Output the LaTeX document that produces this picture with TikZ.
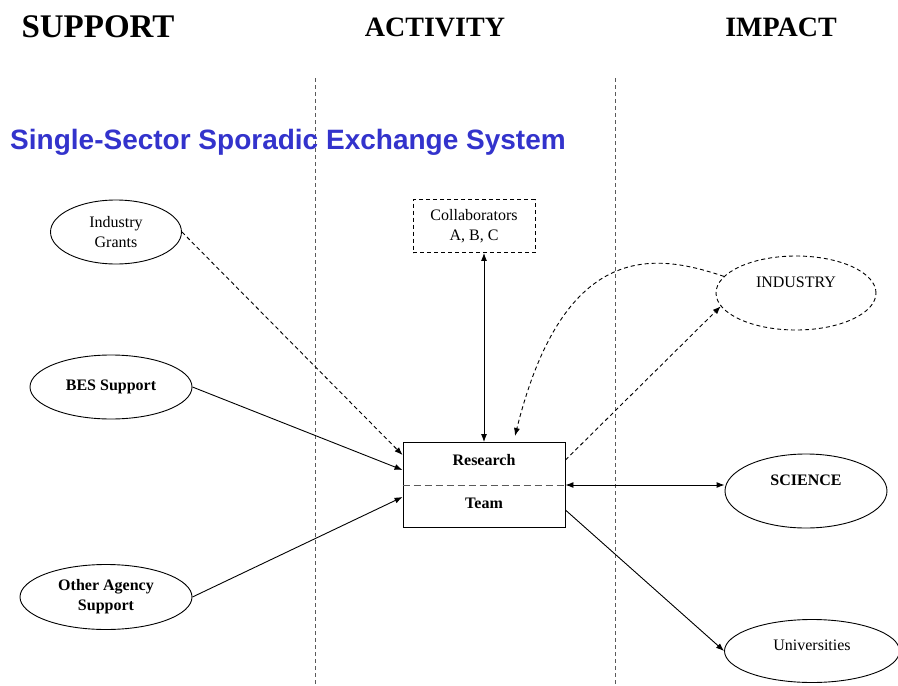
\documentclass[tikz,border=0pt]{standalone}
\usepackage{fontspec}
\setmainfont{Liberation Serif}
\newfontfamily\sansbf{Liberation Sans}
\usetikzlibrary{shapes.geometric,arrows.meta}

\definecolor{sysblue}{RGB}{51,51,204}
\definecolor{rulegray}{RGB}{90,90,90}

\tikzset{
	txt/.style={font=\fontsize{16}{20}\selectfont, align=center},
	oval/.style={draw, ellipse, inner sep=0pt, txt},
	heading/.style={font=\bfseries\fontsize{28}{30}\selectfont},
	link/.style={line width=0.9pt, -{Latex[length=8pt,width=6pt]}},
	twoway/.style={line width=0.9pt, {Latex[length=8pt,width=6pt]}-{Latex[length=8pt,width=6pt]}},
	loose/.style={dash pattern=on 4pt off 3pt},
}

\begin{document}
\begin{tikzpicture}[x=1pt, y=-1pt, line width=0.9pt]
	\useasboundingbox (0,0) rectangle (898,686);

	% column headings
	\node[heading, font=\bfseries\fontsize{33}{35}\selectfont] (support) at (98,27) {SUPPORT};
	\node[heading] (activity) at (435,27) {ACTIVITY};
	\node[heading] (impact) at (781,27) {IMPACT};

	% column rules
	\draw[rulegray, dash pattern=on 4pt off 3pt] (315,78) -- (315,686);
	\draw[rulegray, dash pattern=on 4pt off 3pt] (615,78) -- (615,686);

	\node[font=\sansbf\bfseries\fontsize{28}{30}\selectfont, text=sysblue] (sysname) at (288,142) {Single-Sector Sporadic Exchange System};

	% support side
	\node[oval, minimum width=131pt, minimum height=64pt] (grants) at (116,232) {Industry\\Grants};
	\node[oval, minimum width=162pt, minimum height=64pt, font=\bfseries\fontsize{16}{20}\selectfont] (bes) at (111,387) {BES Support};
	\node[oval, minimum width=172pt, minimum height=65pt, font=\bfseries\fontsize{16}{20}\selectfont] (other) at (106,597) {Other Agency\\Support};

	% activity
	\node[draw, loose, txt, minimum width=122pt, minimum height=53pt, inner sep=0pt] (collab) at (474,226) {Collaborators\\A, B, C};
	\node[draw, minimum width=162pt, minimum height=85pt] (team) at (484,485) {};
	\node[txt, font=\bfseries\fontsize{16}{20}\selectfont] (research) at (484,460) {Research};
	\node[txt, font=\bfseries\fontsize{16}{20}\selectfont] (teamtxt) at (484,503) {Team};
	\draw[rulegray, dash pattern=on 7pt off 4pt] (team.west) -- (team.east);

	% impact side
	\node[oval, loose, minimum width=160pt, minimum height=74pt, label={[txt, yshift=11pt]center:INDUSTRY}] (industry) at (796,293) {};
	\node[oval, minimum width=162pt, minimum height=74pt, label={[txt, font=\bfseries\fontsize{16}{20}\selectfont, yshift=11pt]center:SCIENCE}] (science) at (806,491) {};
	\node[oval, minimum width=175pt, minimum height=63pt, label={[txt, yshift=6pt]center:Universities}] (univ) at (812,651) {};

	% flows
	\draw[link, loose] (grants.east) -- ([yshift=30pt]team.west);
	\draw[link] (bes.east) -- ([yshift=15pt]team.west);
	\draw[link] (other.east) -- ([yshift=-12pt]team.west);
	\draw[twoway] (collab.south -| team.north) -- (team.north);
	\draw[link, loose] (industry.167) .. controls (660,255) and (565,235) .. ([xshift=31pt,yshift=6pt]team.north);
	\draw[link, loose] ([yshift=25pt]team.east) -- (industry.190);
	\draw[twoway] (team.east) -- (team.east -| science.west);
	\draw[link] ([yshift=-25pt]team.east) -- (univ.west);
\end{tikzpicture}
\end{document}
